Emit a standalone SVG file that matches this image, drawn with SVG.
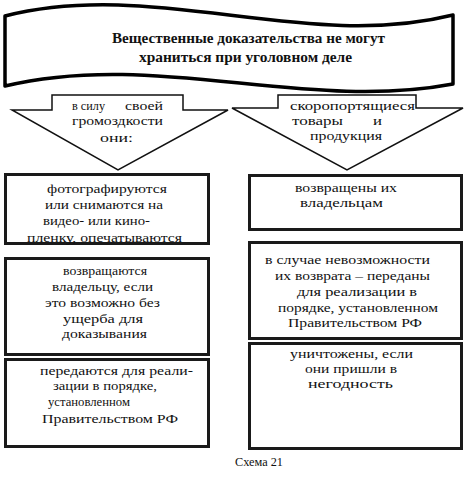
<svg xmlns="http://www.w3.org/2000/svg" width="468" height="481" viewBox="0 0 468 481">
<style>
text{font-family:"Liberation Serif","DejaVu Serif","Times New Roman",serif;font-size:13px;fill:#111}
.t{font-weight:bold;font-size:14px}
.box{fill:#fff;stroke:#1a1a1a;stroke-width:3}
.arr{fill:#fff;stroke:#111;stroke-width:1.5;stroke-linejoin:miter}
.ban{fill:#fff;stroke:#000;stroke-width:3.5;stroke-linejoin:round}
</style>
<g id="banner">
<path class="ban" d="M5,16 C155,-22 305,52 453,15 L453,84 C305,112 155,50 5,86 Z"/>
<text class="t" x="112" y="43" textLength="273" lengthAdjust="spacingAndGlyphs">Вещественные доказательства не могут</text>
<text class="t" x="139" y="62" textLength="213" lengthAdjust="spacingAndGlyphs">храниться при уголовном деле</text>
</g>
<g id="connectors">
<g id="arrow-left">
<path class="arr" d="M52,95 L183,95 L183,110 L228,110 L118,170 L12,110 L52,110 Z"/>
<text x="72" y="110" textLength="33" lengthAdjust="spacingAndGlyphs">в силу</text>
<text x="125" y="110" textLength="38" lengthAdjust="spacingAndGlyphs">своей</text>
<text x="72" y="125" textLength="91" lengthAdjust="spacingAndGlyphs">громоздкости</text>
<text x="100" y="142" textLength="33" lengthAdjust="spacingAndGlyphs">они:</text>
</g>
<g id="arrow-right">
<path class="arr" d="M278,95 L416,95 L416,108 L463,108 L347,170 L232,108 L278,108 Z"/>
<text x="290" y="110" textLength="125" lengthAdjust="spacingAndGlyphs">скоропортящиеся</text>
<text x="292" y="125" textLength="51" lengthAdjust="spacingAndGlyphs">товары</text>
<text x="373" y="125" textLength="9" lengthAdjust="spacingAndGlyphs">и</text>
<text x="310" y="140" textLength="72" lengthAdjust="spacingAndGlyphs">продукция</text>
</g>
</g>
<g id="box-l1">
<rect class="box" x="5.5" y="174.5" width="203" height="69"/>
<text x="47" y="193" textLength="120" lengthAdjust="spacingAndGlyphs">фотографируются</text>
<text x="45" y="209" textLength="118" lengthAdjust="spacingAndGlyphs">или снимаются на</text>
<text x="43" y="225" textLength="107" lengthAdjust="spacingAndGlyphs">видео- или кино-</text>
<text x="27" y="242" textLength="155" lengthAdjust="spacingAndGlyphs">пленку, опечатываются</text>
</g>
<g id="box-l2">
<rect class="box" x="5.5" y="258.5" width="203" height="96"/>
<text x="63" y="275" textLength="84" lengthAdjust="spacingAndGlyphs">возвращаются</text>
<text x="52" y="291" textLength="101" lengthAdjust="spacingAndGlyphs">владельцу, если</text>
<text x="45" y="307" textLength="115" lengthAdjust="spacingAndGlyphs">это возможно без</text>
<text x="63" y="323" textLength="80" lengthAdjust="spacingAndGlyphs">ущерба для</text>
<text x="62" y="338" textLength="85" lengthAdjust="spacingAndGlyphs">доказывания</text>
</g>
<g id="box-l3">
<rect class="box" x="5.5" y="359.5" width="203" height="87"/>
<text x="40" y="375" textLength="153" lengthAdjust="spacingAndGlyphs">передаются для реали-</text>
<text x="53" y="390" textLength="104" lengthAdjust="spacingAndGlyphs">зации в порядке,</text>
<text x="48" y="406" textLength="82" lengthAdjust="spacingAndGlyphs">установленном</text>
<text x="42" y="423" textLength="136" lengthAdjust="spacingAndGlyphs">Правительством РФ</text>
</g>
<g id="box-r1">
<rect class="box" x="249.5" y="175.5" width="212" height="54"/>
<text x="295" y="192" textLength="102" lengthAdjust="spacingAndGlyphs">возвращены их</text>
<text x="300" y="207" textLength="83" lengthAdjust="spacingAndGlyphs">владельцам</text>
</g>
<g id="box-r2">
<rect class="box" x="249.5" y="242.5" width="212" height="96"/>
<text x="265" y="264" textLength="165" lengthAdjust="spacingAndGlyphs">в случае невозможности</text>
<text x="275" y="280" textLength="155" lengthAdjust="spacingAndGlyphs">их возврата – переданы</text>
<text x="297" y="296" textLength="120" lengthAdjust="spacingAndGlyphs">для реализации в</text>
<text x="278" y="312" textLength="160" lengthAdjust="spacingAndGlyphs">порядке, установленном</text>
<text x="288" y="327" textLength="134" lengthAdjust="spacingAndGlyphs">Правительством РФ</text>
</g>
<g id="box-r3">
<rect class="box" x="249.5" y="343.5" width="212" height="105"/>
<text x="290" y="358" textLength="123" lengthAdjust="spacingAndGlyphs">уничтожены, если</text>
<text x="305" y="373" textLength="92" lengthAdjust="spacingAndGlyphs">они пришли в</text>
<text x="308" y="388" textLength="85" lengthAdjust="spacingAndGlyphs">негодность</text>
</g>
<g id="caption">
<text x="235" y="466" textLength="48" lengthAdjust="spacingAndGlyphs">Схема 21</text>
</g>
</svg>
